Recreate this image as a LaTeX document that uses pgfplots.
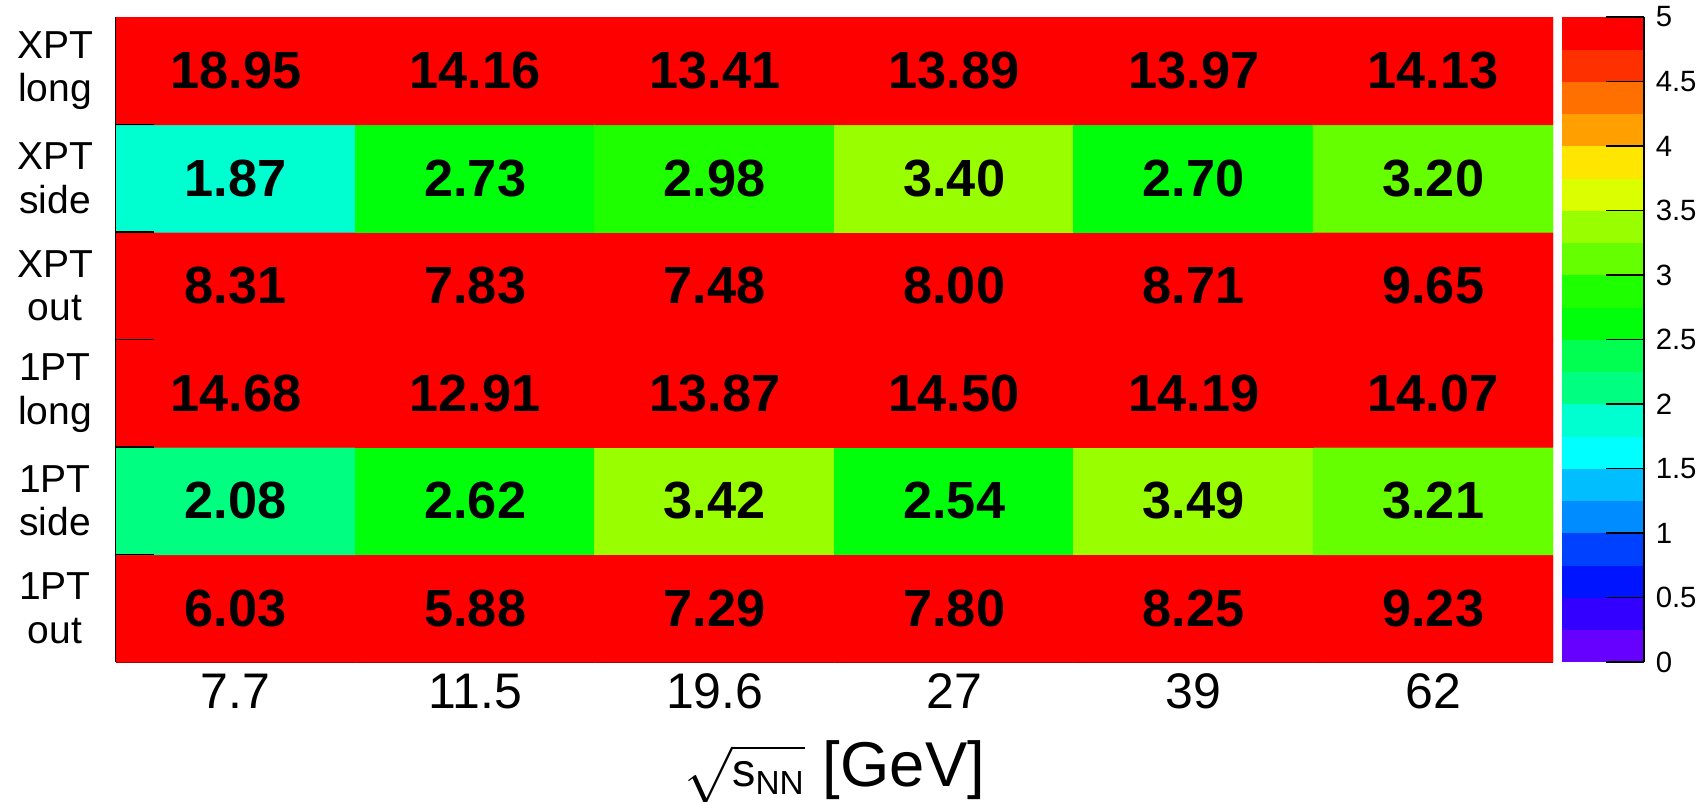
\documentclass[border=0pt]{standalone}
\usepackage{pgfplots}
\usepackage{pgfplotstable}
\pgfplotsset{compat=1.18}
\usepackage{fontspec}
\setmainfont{Liberation Sans}
\setsansfont{Liberation Sans}
\pgfplotsset{/pgf/number format/assume math mode=true}

\pgfplotstableread{
x y v
0 0 6.03
1 0 5.88
2 0 7.29
3 0 7.80
4 0 8.25
5 0 9.23
0 1 2.08
1 1 2.62
2 1 3.42
3 1 2.54
4 1 3.49
5 1 3.21
0 2 14.68
1 2 12.91
2 2 13.87
3 2 14.50
4 2 14.19
5 2 14.07
0 3 8.31
1 3 7.83
2 3 7.48
3 3 8.00
4 3 8.71
5 3 9.65
0 4 1.87
1 4 2.73
2 4 2.98
3 4 3.40
4 4 2.70
5 4 3.20
0 5 18.95
1 5 14.16
2 5 13.41
3 5 13.89
4 5 13.97
5 5 14.13
}\datatable

\begin{document}
\begin{tikzpicture}
\useasboundingbox (-34.8pt,-42pt) rectangle (476.1pt,198.6pt);
\begin{axis}[
  name=main,
  at={(0,0)}, anchor=south west,
  scale only axis, width=431.1pt, height=193.5pt,
  xmin=-0.5, xmax=5.5, ymin=-0.5, ymax=5.5,
  enlargelimits=false,
  axis x line*=bottom, axis y line*=left,
  axis line style={-, black, line width=0.35pt},
  xtick={0,...,5}, xticklabels={7.7,11.5,19.6,27,39,62},
  ytick={0,...,5},
  yticklabels={{1PT\\out},{1PT\\side},{1PT\\long},{XPT\\out},{XPT\\side},{XPT\\long}},
  major tick length=0pt,
  minor xtick={0.5,1.5,2.5,3.5,4.5},
  minor tick length=6.6pt,
  tick align=inside,
  tick style={black, line width=0.35pt},
  xticklabel style={font=\fontsize{15}{17}\selectfont, yshift=0pt},
  yticklabel style={font=\fontsize{11.7}{13}\selectfont, align=center, anchor=center, xshift=-18.3pt},
  xlabel={$\sqrt{\mbox{\fontsize{14}{16}\selectfont s}_{\mbox{\fontsize{10}{12}\selectfont NN}}}$ [GeV]},
  xlabel style={font=\fontsize{19}{22}\selectfont, inner sep=0pt, at={(axis description cs:0.5,0)}, anchor=base, yshift=-37.2pt},
  point meta min=0, point meta max=5,
  colormap={rootpal}{
    rgb255=(102,0,255) rgb255=(51,0,255) rgb255=(0,20,255) rgb255=(0,64,255)
    rgb255=(0,140,255) rgb255=(0,190,255) rgb255=(0,255,255) rgb255=(0,255,208)
    rgb255=(0,255,128) rgb255=(0,255,80) rgb255=(0,255,10) rgb255=(30,255,0)
    rgb255=(102,255,0) rgb255=(153,255,0) rgb255=(220,255,0) rgb255=(255,230,0)
    rgb255=(255,160,0) rgb255=(255,112,0) rgb255=(255,48,0) rgb255=(255,0,0)},
  colormap access=piecewise constant,
  colorbar,
  colorbar style={
    at={(parent axis.north east)}, anchor=north west, xshift=-5.84pt,
    scale only axis, width=24.6pt, height=193.5pt,
    ytick={0,0.5,...,5},
    axis x line=none, axis y line*=right,
    axis line style={-, black, line width=0.35pt},
    ytick pos=right, yticklabel pos=right,
    tick align=inside, major tick length=11.4pt,
    tick style={black, line width=0.35pt},
    yticklabel style={font=\fontsize{8.8}{11}\selectfont},
  },
]
\addplot[matrix plot*, mesh/cols=6, point meta=explicit] table[x=x, y=y, meta=v] {\datatable};
\addplot[only marks, mark=none, point meta=explicit, forget plot,
  nodes near coords={\pgfmathprintnumber[fixed,fixed zerofill,precision=2]{\pgfplotspointmeta}},
  every node near coord/.append style={font=\fontsize{15.7}{18}\bfseries\selectfont, text=black, anchor=center, inner sep=0pt}]
  table[x=x, y=y, meta=v] {\datatable};
\pgfplotsinvokeforeach{0.5,1.5,2.5,3.5,4.5}{
  \draw[black, line width=0.35pt] (axis cs:-0.5,#1) -- ++(11.4pt,0pt);
}
\end{axis}
\end{tikzpicture}
\end{document}
